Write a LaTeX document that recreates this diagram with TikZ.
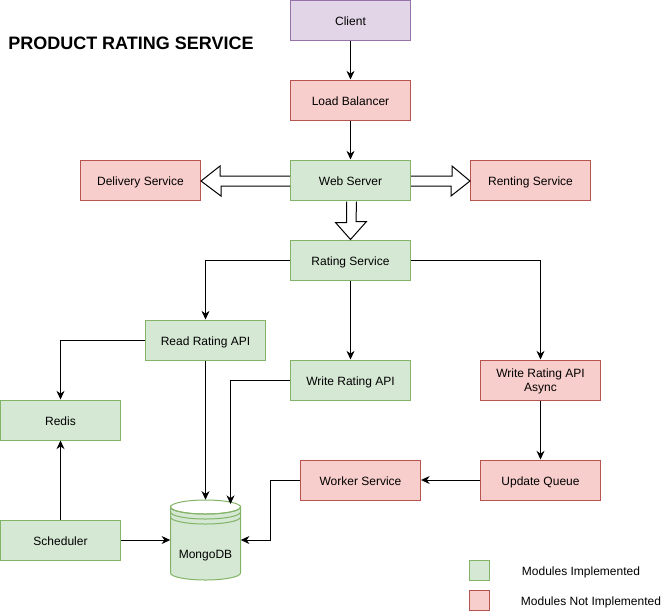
\documentclass[tikz,border=0pt]{standalone}
\usepackage{fontspec}
\setmainfont{Liberation Sans}
\usetikzlibrary{arrows.meta}

\definecolor{donefill}{HTML}{D5E8D4}
\definecolor{doneline}{HTML}{82B366}
\definecolor{todofill}{HTML}{F8CECC}
\definecolor{todoline}{HTML}{B85450}
\definecolor{userfill}{HTML}{E1D5E7}
\definecolor{userline}{HTML}{9673A6}

\tikzset{
  module/.style={draw,line width=0.75pt,minimum width=90pt,minimum height=30pt,align=center,inner sep=1pt,text height=8.5pt,text depth=0.6pt,font=\fontsize{9}{10.5}\selectfont},
  done/.style={module,fill=donefill,draw=doneline},
  todo/.style={module,fill=todofill,draw=todoline},
  user/.style={module,fill=userfill,draw=userline},
  legendbox/.style={draw,line width=0.75pt,minimum width=15pt,minimum height=15pt,inner sep=0pt},
  plain/.style={inner sep=0pt,font=\fontsize{9}{10.5}\selectfont},
  link/.style={->,line width=0.75pt},
  hollow/.style={draw=black,fill=white,line width=0.75pt,miter limit=3},
  store/.style={draw=doneline,line width=0.75pt}
}

\begin{document}
\begin{tikzpicture}[x=0.75pt,y=-0.75pt,>={Stealth[length=6.5pt,width=6pt]},node distance=60pt]
      \useasboundingbox (0.5,0) rectangle (666.5,611);

      \node[plain,anchor=west,font=\bfseries\fontsize{13.5}{16}\selectfont] (title) at (8.5,43) {PRODUCT RATING SERVICE};

      \node[user] (client) at (351,20) {Client};
      \node[todo] (balancer) [below of=client] {Load Balancer};
      \node[done] (web) [below of=balancer] {Web Server};
      \node[todo] (delivery) [left of=web,node distance=157.5pt] {Delivery Service};
      \node[todo] (renting) [right of=web,node distance=135pt] {Renting Service};
      \node[done] (rating) [below of=web] {Rating Service};

      \node[done] (read) at (206,340) {Read Rating API};
      \node[done] (write) [below of=rating,node distance=90pt] {Write Rating API};
      \node[todo,text height=19.5pt,text depth=2pt] (async) at (541,380) {Write Rating API\\Async};
      \node[todo] (queue) [below of=async,node distance=75pt] {Update Queue};
      \node[todo] (worker) [left of=queue,node distance=135pt] {Worker Service};
      \node[done] (redis) at (61,420) {Redis};
      \node[done] (scheduler) [below of=redis,node distance=90pt] {Scheduler};

      % datastore
      \node[minimum width=52.5pt,minimum height=60pt,inner sep=0pt] (mongo) at (206,540) {};
      \draw[store,fill=donefill]
      (171,507) -- (171,573) arc (180:0:35 and 7) -- (241,507) arc (0:180:35 and 7) -- cycle;
      \draw[store] (206,507) ellipse (35 and 7);
      \draw[store] (171,512) arc (180:0:35 and 7);
      \draw[store] (171,517) arc (180:0:35 and 7);
      \node[plain] (mongolabel) at (206,556) {MongoDB};

      \coordinate (mongotop) at (231,504);
      \coordinate (workerbend) at (271,480);

      \path[link]
      (client) edge (balancer)
      (balancer) edge (web)
      (rating) edge (write)
      (async) edge (queue)
      (queue) edge (worker)
      (read) edge (mongo.north)
      (scheduler) edge (redis)
      (scheduler) edge (mongo.west)
      ;
      \draw[link] (rating) -| (read);
      \draw[link] (rating) -| (async);
      \draw[link] (read) -| (redis);
      \draw[link] (write) -| (mongotop);
      \draw[link] (worker) -- (workerbend) |- (mongo.east);

      % wide arrows, left open at the web server
      \filldraw[hollow] ([shift={(0,-4)}]web.west) -- ++(-70,0) -- ++(0,-10)
      -- ([shift={(0,1)}]delivery.east) -- ++(20,15) -- ++(0,-10) -- ([shift={(0,6)}]web.west);
      \filldraw[hollow] ([shift={(0,-4)}]web.east) -- ++(41,0) -- ++(0,-10)
      -- ([shift={(0,1)}]renting.west) -- ++(-19,15) -- ++(0,-10) -- ([shift={(0,6)}]web.east);
      \filldraw[hollow] ([shift={(-4,1)}]web.south) -- ++(0,21) -- ++(-11,0)
      -- (rating.north) -- ++(16,-18) -- ++(-10.5,0) -- ([shift={(6,1)}]web.south);

      % legend
      \node[legendbox,fill=donefill,draw=doneline] (legenddone) at (480,570) {};
      \node[legendbox,fill=todofill,draw=todoline] (legendtodo) at (480,600) {};
      \node[plain] (legenddonetext) at (581.5,572) {Modules Implemented};
      \node[plain] (legendtodotext) at (591.5,602) {Modules Not Implemented};
    \end{tikzpicture}
\end{document}
